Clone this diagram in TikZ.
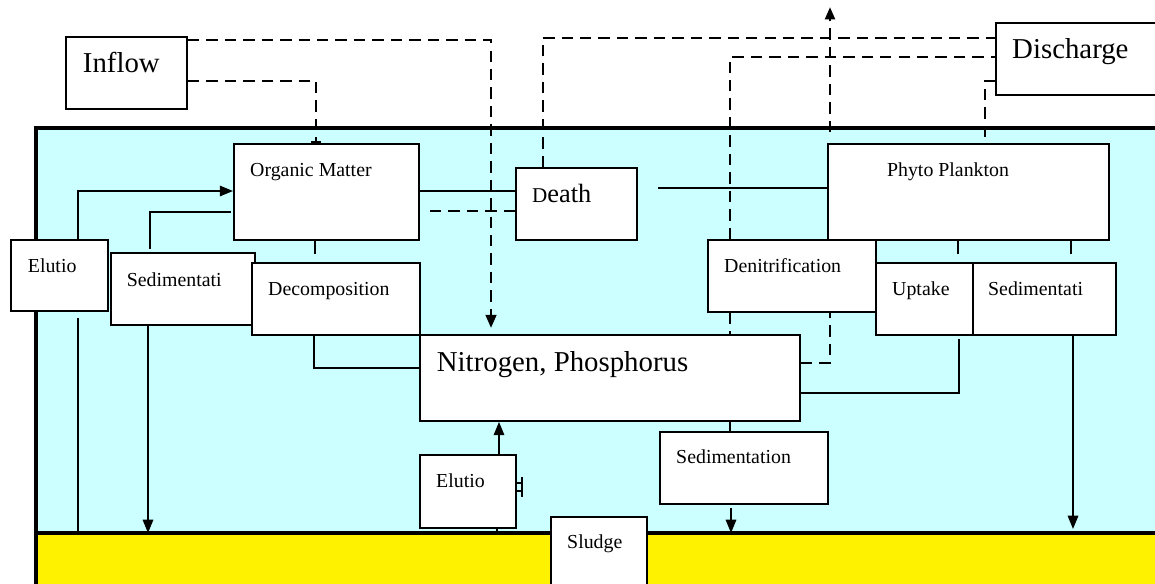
\documentclass[tikz,border=0pt]{standalone}
\usepackage{fontspec}
\setmainfont{Liberation Serif}
\usepackage{tikz}
\usetikzlibrary{arrows.meta}

\definecolor{water}{RGB}{204,255,255}
\newcommand\smalltxt{\fontsize{11.3}{13}\selectfont}
\newcommand\bigtxt{\fontsize{16.4}{19}\selectfont}

\begin{document}
\begin{tikzpicture}[x=0.02cm,y=-0.02cm,
    blk/.style={draw,fill=white,line width=1.1pt,inner sep=0,anchor=north west},
    lbl/.style={anchor=base west,inner sep=0,font=\smalltxt},
    biglbl/.style={anchor=base west,inner sep=0,font=\bigtxt},
    flow/.style={line width=0.8pt},
    dsh/.style={line width=1.6pt,dash pattern=on 6.5pt off 4pt},
    tip/.style={-{Triangle[length=7.5pt,width=6pt]}}]
        \clip (0,0) rectangle (1155,584);
        % pond water and sludge bed
        \fill[water] (36,128) rectangle (1160,533);
        \fill[yellow] (36,533) rectangle (1160,590);
        \draw[line width=2.2pt] (1160,128) -- (36,128) -- (36,590);
        \draw[line width=2.2pt] (36,533) -- (1160,533);

        \node[blk,minimum width=2.42cm,minimum height=1.44cm] (inflow) at (65,36) {};
        \node[blk,minimum width=3.7cm,minimum height=1.92cm] (om) at (233,143) {};
        \node[blk,minimum width=2.42cm,minimum height=1.44cm] (death) at (515,167) {};
        \node[blk,minimum width=3.5cm,minimum height=1.44cm] (discharge) at (995,22) {};
        \node[blk,minimum width=5.62cm,minimum height=1.92cm] (phyto) at (827,143) {};
        \node[blk,minimum width=1.94cm,minimum height=1.42cm] (elutioL) at (10,239) {};
        \node[blk,minimum width=2.88cm,minimum height=1.44cm] (sedL) at (110,252) {};
        \node[blk,minimum width=3.36cm,minimum height=1.44cm] (decomp) at (251,262) {};
        \node[blk,minimum width=3.36cm,minimum height=1.44cm] (denit) at (707,239) {};
        \node[blk,minimum width=1.94cm,minimum height=1.44cm] (uptake) at (875,262) {};
        \node[blk,minimum width=2.86cm,minimum height=1.44cm] (sedR) at (972,262) {};
        \node[blk,minimum width=7.6cm,minimum height=1.72cm] (nutr) at (419,334) {};
        \node[blk,minimum width=1.92cm,minimum height=1.46cm] (elutioB) at (419,454) {};
        \node[blk,minimum width=3.36cm,minimum height=1.44cm] (sedB) at (659,431) {};
        \node[blk,minimum width=1.92cm,minimum height=1.7cm] (sludge) at (550,516) {};

        \node[biglbl,xshift=10pt,yshift=-21pt] at (inflow.north west) {Inflow};
        \node[lbl,xshift=9.6pt,yshift=-19.3pt] at (om.north west) {Organic Matter};
        \node[anchor=base west,inner sep=0,font=\fontsize{15}{17}\selectfont,xshift=9.6pt,yshift=-20.4pt] at (death.north west) {{\fontsize{12}{15}\selectfont D}eath};
        \node[biglbl,xshift=9.6pt,yshift=-21pt] at (discharge.north west) {Discharge};
        \node[lbl,xshift=34pt,yshift=-19.3pt] at (phyto.north west) {Phyto Plankton};
        \node[lbl,xshift=10pt,yshift=-19.3pt] at (elutioL.north west) {Elutio};
        \node[lbl,xshift=9.4pt,yshift=-19.8pt] at (sedL.north west) {Sedimentati};
        \node[lbl,xshift=9.6pt,yshift=-19.3pt] at (decomp.north west) {Decomposition};
        \node[lbl,xshift=9.6pt,yshift=-19.3pt] at (denit.north west) {Denitrification};
        \node[lbl,xshift=9.6pt,yshift=-19.3pt] at (uptake.north west) {Uptake};
        \node[lbl,xshift=9pt,yshift=-19.3pt] at (sedR.north west) {Sedimentati};
        \node[biglbl,xshift=10pt,yshift=-21.5pt] at (nutr.north west) {Nitrogen, Phosphorus};
        \node[lbl,xshift=9.6pt,yshift=-19.3pt] at (elutioB.north west) {Elutio};
        \node[lbl,xshift=9.6pt,yshift=-18.7pt] at (sedB.north west) {Sedimentation};
        \node[lbl,xshift=9.6pt,yshift=-18.7pt] at (sludge.north west) {Sludge};

        % dashed: inflow, discharge, denitrification
        \draw[dsh,tip] ([shift={(0,4)}]inflow.north east) -| ([shift={(72,-6)}]nutr.north west);
        \draw[dsh,-{Bar[width=6pt,line width=1pt]}] ([shift={(0,45)}]inflow.north east) -| ([shift={(83,0)}]om.north west);
        \draw[dsh] ([shift={(28,0)}]death.north west) |- ([shift={(0,16)}]discharge.north west);
        \draw[dsh] ([shift={(0,44)}]death.north west) -- ([shift={(9,68)}]om.north east);
        \coordinate (gas) at (830,132);
        \coordinate (air) at (830,7);
        \draw[dsh,-{Triangle[length=7pt,width=5.5pt]}] (gas) -- (air);
        \draw[dsh] ([shift={(23,0)}]denit.north west) |- ([shift={(0,35)}]discharge.north west);
        \draw[dsh] ([shift={(158,-6)}]phyto.north west) |- ([shift={(0,59)}]discharge.north west);
        \draw[dsh] ([shift={(0,29)}]nutr.north east) -| ([shift={(123,0)}]denit.south west);
        \draw[dsh] ([shift={(23,0)}]denit.south west) -- ([shift={(311,0)}]nutr.north west);

        % solid flows
        \draw[line width=1.3pt] ([shift={(0,48)}]om.north east) -- ([shift={(0,24)}]death.north west);
        \draw[flow] ([shift={(0,45)}]phyto.north west) -- ([shift={(20,21)}]death.north east);
        \draw[flow,tip] ([shift={(68,0)}]elutioL.north west) |- ([shift={(0,48)}]om.north west);
        \draw[flow] ([shift={(40,-3)}]sedL.north west) |- ([shift={(-2,69)}]om.north west);
        \draw[flow] ([shift={(82,0)}]om.south west) -- +(0,13);
        \draw[flow] ([shift={(131,0)}]phyto.south west) -- +(0,13);
        \draw[flow] ([shift={(244,0)}]phyto.south west) -- +(0,13);
        \draw[flow] ([shift={(63,0)}]decomp.south west) |- ([shift={(0,34)}]nutr.north west);
        \draw[flow] ([shift={(84,3)}]uptake.south west) |- ([shift={(0,59)}]nutr.north east);
        \draw[flow] ([shift={(311,0)}]nutr.south west) -- ([shift={(71,0)}]sedB.north west);
        \draw[flow,tip] ([shift={(72,3)}]sedB.south west) -- +(0,25); % to sludge
        \draw[flow,tip] ([shift={(38,0)}]sedL.south west) -- +(0,207);
        \draw[flow,tip] ([shift={(101,0)}]sedR.south west) -- +(0,193);
        \draw[flow] ([shift={(68,6)}]elutioL.south west) -- +(0,217);
        \draw[flow,tip] ([shift={(80,0)}]elutioB.north west) -- ([shift={(80,0)}]nutr.south west);
        \draw[flow] ([shift={(78,0)}]elutioB.south west) -- +(0,6);
        \draw[flow] ([shift={(0,29)}]elutioB.north east) -- ++(5,0) ([shift={(0,37)}]elutioB.north east) -- ++(5,0)
            ([shift={(5,23)}]elutioB.north east) -- ++(0,20);
    \end{tikzpicture}
\end{document}
